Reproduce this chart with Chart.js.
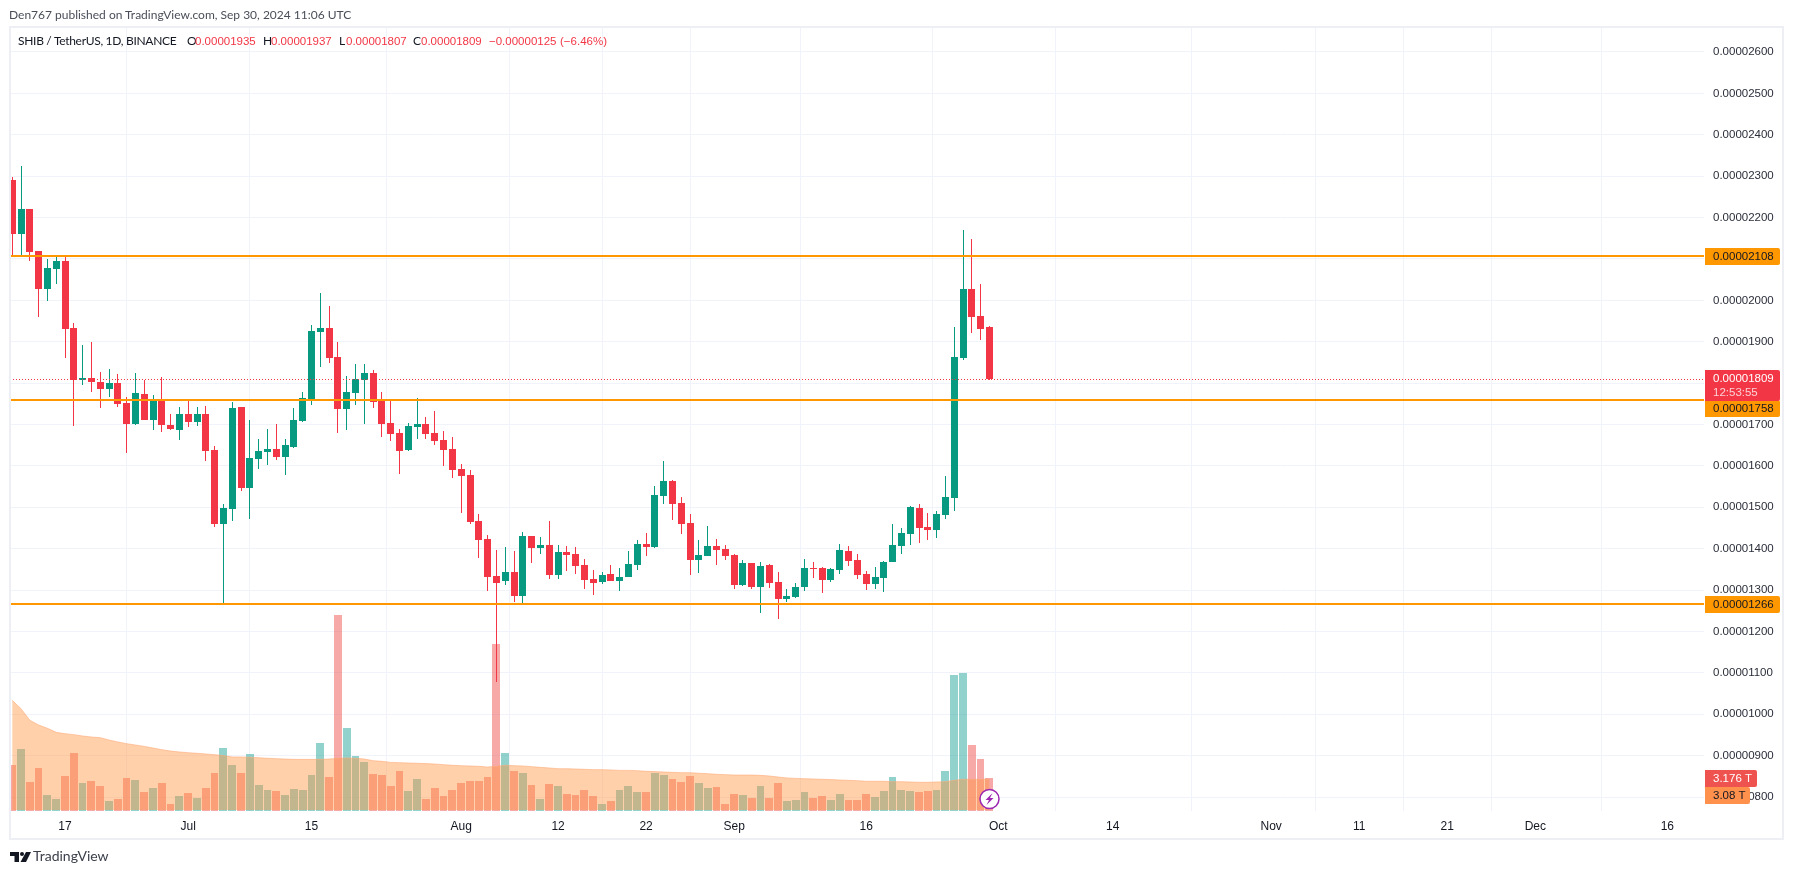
<!DOCTYPE html>
<html>
<head>
<meta charset="utf-8">
<title>SHIB / TetherUS</title>
<script src="https://cdn.jsdelivr.net/npm/chart.js@4"></script>
<style>
    html, body { margin: 0; padding: 0; background: #fff; overflow: hidden; }
    body { width: 1794px; height: 874px; position: relative; font-family: Lato, sans-serif; }
    canvas { position: absolute; left: 0; top: 0; }
    .frame { position: absolute; left: 9px; top: 26px; width: 1771px; height: 810px; border: 2px solid #eeeff4; pointer-events: none; }
    .txt { position: absolute; white-space: nowrap; font-size: 12px; line-height: 14px; color: #131722; }
    .up { color: #f23645; font-family: 'Liberation Sans', sans-serif; font-size: 11.5px; }
</style>
</head>
<body>
<canvas id="candle-chart" width="1794" height="874"></canvas>
<div class="frame"></div>
<div class="txt" style="left:9px;top:8px;color:#4a4e59">Den767 published on TradingView.com, Sep 30, 2024 11:06 UTC</div>
<div class="txt" style="left:18px;top:34px;letter-spacing:-.3px">SHIB / TetherUS, 1D, BINANCE</div>
<div class="txt" style="left:187px;top:34px">O</div><div class="txt up" style="left:195px;top:34px">0.00001935</div>
<div class="txt" style="left:263px;top:34px">H</div><div class="txt up" style="left:271px;top:34px">0.00001937</div>
<div class="txt" style="left:339px;top:34px">L</div><div class="txt up" style="left:346px;top:34px">0.00001807</div>
<div class="txt" style="left:413px;top:34px">C</div><div class="txt up" style="left:421px;top:34px">0.00001809</div>
<div class="txt up" style="left:489px;top:34px">−0.00000125</div>
<div class="txt up" style="left:560px;top:34px">(−6.46%)</div>
<svg style="position:absolute;left:10px;top:852px" width="21" height="10" viewBox="0 0 21 10">
    <path fill="#131722" d="M0 0H9V10H4.5V4H0Z"/><circle fill="#131722" cx="12" cy="2" r="2"/><path fill="#131722" d="M16 0H21L16 10H10.5Z"/>
</svg>
<div class="txt" style="left:33px;top:848px;font-size:14px;line-height:16px;color:#3c404b">TradingView</div>

<script>
// Candles, one per day from Jun 11 to Sep 30 2024, prices in units of 0.00000001
const firstDay = -20; // days relative to Jul 1
const opens = [
    2291,2161,2221,2120,2027,2076,2095,1933,1807,1812,1803,1786,1800,1752,1701,1774,1711,1759,1699,1687,
    1725,1706,1725,1638,1459,1496,1742,1546,1616,1633,1641,1621,1645,1708,1759,1923,1933,1863,1737,1776,1807,1824,1759,1703,1679,1638,1694,1701,1679,1662,1641,
    1592,1578,1467,1423,1333,1322,1343,1286,1430,1401,1409,1336,1392,1386,1360,1326,1319,1338,1322,1331,1360,1411,1404,1527,1563,1510,1462,1372,1382,1406,1399,
    1384,1312,1365,1307,1360,1319,1278,1283,1307,1353,1353,1324,1348,1394,1372,1338,1314,1329,1367,1406,1435,1498,1452,1445,1481,1522,1861,2027,1962,1935
];
const highs = [
    2298,2325,2221,2120,2100,2107,2110,1945,1892,1899,1827,1834,1822,1766,1824,1807,1771,1815,1725,1742,
    1759,1742,1745,1648,1508,1754,1742,1711,1665,1689,1701,1665,1740,1778,1940,2018,1986,1899,1817,1846,1846,1832,1778,1759,1689,1703,1764,1718,1732,1684,1670,
    1604,1590,1484,1433,1396,1404,1394,1440,1430,1428,1467,1409,1406,1403,1375,1348,1343,1360,1353,1394,1421,1438,1551,1612,1566,1525,1483,1421,1454,1423,1409,
    1387,1372,1365,1367,1363,1343,1302,1317,1375,1367,1355,1353,1411,1406,1387,1346,1355,1370,1459,1450,1503,1508,1486,1491,1575,1936,2170,2148,2039,1937
];
const lows = [
    2105,2110,2095,1960,1998,2040,1861,1696,1795,1778,1740,1766,1742,1631,1699,1711,1687,1682,1687,1662,
    1694,1696,1612,1452,1269,1467,1540,1471,1592,1602,1614,1578,1643,1706,1747,1839,1849,1679,1687,1747,1701,1740,1670,1660,1580,1636,1665,1665,1650,1600,1571,
    1486,1459,1377,1297,1078,1313,1271,1269,1365,1387,1326,1326,1347,1340,1302,1288,1314,1322,1297,1331,1348,1382,1401,1508,1469,1435,1336,1341,1382,1360,1372,
    1302,1309,1302,1244,1305,1230,1271,1280,1297,1329,1293,1319,1338,1358,1326,1300,1302,1295,1367,1387,1409,1413,1421,1425,1471,1491,1856,1921,1904,1807
];
const closes = [
    2161,2221,2117,2027,2078,2095,1931,1807,1812,1803,1786,1800,1749,1701,1776,1711,1757,1699,1689,1725,
    1706,1725,1636,1459,1498,1740,1546,1619,1636,1641,1621,1650,1711,1764,1926,1933,1861,1737,1778,1810,1824,1754,1701,1677,1636,1696,1701,1677,1660,1638,1590,
    1575,1464,1421,1331,1318,1343,1286,1430,1401,1409,1336,1392,1385,1357,1324,1317,1336,1322,1331,1363,1411,1404,1529,1563,1508,1459,1372,1384,1406,1396,1382,
    1312,1365,1307,1358,1317,1278,1285,1307,1353,1351,1324,1351,1396,1370,1336,1314,1331,1367,1409,1438,1500,1450,1445,1484,1525,1863,2027,1960,1931,1809
];

// Volume and its moving average, in trillions
const volumes = [
    4.40,5.94,2.76,4.11,1.51,1.12,3.34,5.55,2.66,2.86,2.37,0.93,1.12,3.14,2.95,1.80,2.18,2.66,0.64,1.41,
    1.70,1.22,2.18,3.63,6.03,4.40,3.63,5.45,2.47,1.99,1.89,1.51,2.09,1.99,3.43,6.51,3.24,18.83,7.96,5.26,4.68,3.53,3.43,2.37,3.82,1.89,3.05,1.12,2.18,1.41,1.99,
    2.66,2.86,2.86,3.24,16.04,5.55,3.82,3.63,2.47,1.12,2.57,2.37,1.60,1.51,1.99,1.41,0.64,0.93,1.99,2.37,1.80,1.80,3.63,3.43,3.05,2.76,3.34,2.66,2.18,2.28,0.64,
    1.60,1.51,1.22,2.37,1.22,2.66,0.93,1.03,1.80,1.22,1.41,1.03,1.60,1.03,1.03,1.60,1.32,1.89,3.24,1.99,1.89,1.80,1.89,1.99,3.82,13.06,13.25,6.32,4.97,3.18
];
const volumeAverage = [
    10.65,9.85,8.73,8.28,7.96,7.57,7.44,7.35,7.22,7.12,7.06,6.83,6.64,6.48,6.35,6.22,6.06,5.90,5.77,5.68,
    5.61,5.55,5.49,5.42,5.33,5.20,5.20,5.17,5.13,5.07,5.04,5.00,4.97,4.97,4.97,4.97,5.00,5.07,5.10,5.07,5.00,4.84,4.78,4.68,4.65,4.62,4.59,4.56,4.52,4.46,4.40,
    4.36,4.33,4.30,4.23,4.30,4.40,4.36,4.33,4.27,4.20,4.14,4.07,4.07,4.04,4.01,3.98,3.98,3.95,3.91,3.91,3.88,3.82,3.79,3.75,3.72,3.69,3.69,3.63,3.59,3.53,3.50,
    3.46,3.46,3.46,3.43,3.37,3.27,3.18,3.14,3.11,3.08,3.05,3.02,2.98,2.95,2.92,2.86,2.86,2.86,2.82,2.82,2.79,2.76,2.76,2.79,2.82,2.95,3.05,3.05,3.05,3.08
];

// Axis ticks
const priceTicks = [800,900,1000,1100,1200,1300,1400,1500,1600,1700,1800,1900,2000,2100,2200,2300,2400,2500,2600];
const timeTickDays = [-14,0,14,31,42,52,62,77,92,105,123,133,143,153,168];
const timeTickNames = ['17','Jul','15','Aug','12','22','Sep','16','Oct','14','Nov','11','21','Dec','16'];

// Horizontal levels drawn on the chart
const levels = [2108, 1758, 1266];
const lastPrice = 1809;
const lastVolume = 3.176;
const lastAverage = 3.08;
const countdown = '12:53:55';

const GREEN = '#089981';
const RED = '#f23645';
const ORANGE = '#ff9800';
const FONT = "'Liberation Sans', sans-serif";

// Visible ranges of the three axes
const dayMin = -20.25, dayMax = 172.16;
const priceMin = 766.2, priceMax = 2660.4;
const volumeMax = 75.46;

const dayOf = i => firstDay + i;
const isUp = i => closes[i] >= opens[i];
const candleColors = opens.map((_, i) => isUp(i) ? GREEN : RED);
const volumeColors = opens.map((_, i) => isUp(i) ? 'rgba(38, 166, 154, 0.5)' : 'rgba(239, 83, 80, 0.5)');
const priceText = p => (p / 1e8).toFixed(8);

// Snap the bars and level lines to whole pixels so they stay crisp like the original
const snapPlugin = {
    id: 'snap',
    afterDatasetsUpdate(chart) {
        chart.data.datasets.forEach((ds, d) => {
            const els = chart.getDatasetMeta(d).data;
            els.forEach(el => {
                if (ds.snap === 'candle') {
                    el.x = Math.floor(el.x) + 0.5;
                    el.y = Math.round(el.y);
                    el.base = Math.round(el.base);
                    if (el.y === el.base) el.base = el.y + 1;
                } else if (ds.snap === 'volume') {
                    const left = Math.round(el.x - 4);
                    const right = Math.round(el.x + 4.8) - 1;
                    el.x = (left + right) / 2;
                    el.width = right - left;
                    el.y = Math.round(el.y);
                } else if (ds.snap === 'level') {
                    el.y = Math.round(el.y) + ds.snapOffset;
                }
            });
        });
    }
};

function drawTag(ctx, x, top, w, h, color) {
    ctx.fillStyle = color;
    ctx.beginPath();
    ctx.roundRect(x, top, w, h, [0, 2, 2, 0]);
    ctx.fill();
}

// Price tags on the right axis and the small bolt marker
const tagsPlugin = {
    id: 'tags',
    afterDraw(chart) {
        const ctx = chart.ctx;
        const y = chart.scales.y;
        const v = chart.scales.yVolume;
        const tagX = chart.chartArea.right + 1;
        const textX = tagX + 8;
        ctx.save();
        ctx.textBaseline = 'middle';
        ctx.font = '11.5px ' + FONT;

        levels.forEach(level => {
            const cy = Math.round(y.getPixelForValue(level));
            let top = cy - 8;
            if (level === 1758) top = Math.max(top, Math.round(y.getPixelForValue(lastPrice)) + 21);
            drawTag(ctx, tagX, top, 75, 17, ORANGE);
            ctx.fillStyle = '#131722';
            ctx.fillText(priceText(level), textX, top + 9);
        });

        const lastY = Math.round(y.getPixelForValue(lastPrice));
        drawTag(ctx, tagX, lastY - 9, 75, 31, RED);
        ctx.fillStyle = '#fff';
        ctx.fillText(priceText(lastPrice), textX, lastY);
        ctx.fillStyle = '#fcd0d4';
        ctx.fillText(countdown, textX, lastY + 14);

        const volTop = Math.round(v.getPixelForValue(lastVolume)) - 8;
        drawTag(ctx, tagX, volTop, 52, 17, '#ef5350');
        ctx.fillStyle = '#fff';
        ctx.fillText(lastVolume + ' T', textX, volTop + 9);

        const avgTop = Math.max(Math.round(v.getPixelForValue(lastAverage)) - 8, volTop + 17);
        drawTag(ctx, tagX, avgTop, 45, 17, '#ff914d');
        ctx.fillStyle = '#131722';
        ctx.fillText(lastAverage + ' T', textX, avgTop + 9);

        // Bolt marker sits on the last volume bar
        const bx = Math.round(chart.scales.x.getPixelForValue(dayOf(opens.length - 1))) + 0.5;
        const by = chart.chartArea.bottom - 12;
        ctx.beginPath();
        ctx.arc(bx, by, 9.5, 0, Math.PI * 2);
        ctx.fillStyle = '#fff';
        ctx.fill();
        ctx.lineWidth = 1.5;
        ctx.strokeStyle = '#9c27b0';
        ctx.stroke();
        ctx.beginPath();
        ctx.moveTo(bx + 3, by - 6);
        ctx.lineTo(bx - 4, by + 1);
        ctx.lineTo(bx - 0.5, by + 1);
        ctx.lineTo(bx - 3, by + 6);
        ctx.lineTo(bx + 4, by - 1);
        ctx.lineTo(bx + 0.5, by - 1);
        ctx.closePath();
        ctx.fillStyle = '#9c27b0';
        ctx.fill();
        ctx.restore();
    }
};

function initCandleChart() {
    const ctx = document.getElementById('candle-chart');

    const barCommon = { type: 'bar', grouped: false, borderWidth: 0, inflateAmount: 0, borderSkipped: false };

    const levelSets = levels.map(level => ({
        type: 'line',
        data: [{ x: dayMin, y: level }, { x: dayMax, y: level }],
        borderColor: ORANGE,
        borderWidth: 2,
        pointRadius: 0,
        yAxisID: 'y',
        order: 1,
        snap: 'level',
        snapOffset: 0
    }));

    new Chart(ctx, {
        type: 'bar',
        data: {
            datasets: [
                {
                    ...barCommon,
                    data: volumes.map((v, i) => ({ x: dayOf(i), y: v })),
                    backgroundColor: volumeColors,
                    barThickness: 8,
                    yAxisID: 'yVolume',
                    order: 10,
                    snap: 'volume'
                },
                {
                    type: 'line',
                    data: volumeAverage.map((v, i) => ({ x: dayOf(i), y: v })),
                    borderColor: 'rgba(255, 170, 120, 0.6)',
                    borderWidth: 1,
                    backgroundColor: 'rgba(255, 148, 62, 0.44)',
                    fill: { value: 0.1 },
                    pointRadius: 0,
                    tension: 0,
                    yAxisID: 'yVolume',
                    order: 9
                },
                {
                    ...barCommon,
                    data: opens.map((_, i) => ({ x: dayOf(i), y: [lows[i], highs[i]] })),
                    backgroundColor: candleColors,
                    barThickness: 1,
                    yAxisID: 'y',
                    order: 8,
                    snap: 'candle'
                },
                {
                    ...barCommon,
                    data: opens.map((o, i) => ({ x: dayOf(i), y: [o, closes[i]] })),
                    backgroundColor: candleColors,
                    barThickness: 7,
                    yAxisID: 'y',
                    order: 7,
                    snap: 'candle'
                },
                {
                    type: 'line',
                    data: [{ x: dayMin, y: lastPrice }, { x: dayMax, y: lastPrice }],
                    borderColor: RED,
                    borderWidth: 1,
                    borderDash: [1, 2],
                    pointRadius: 0,
                    yAxisID: 'y',
                    order: 6,
                    snap: 'level',
                    snapOffset: 0.5
                },
                ...levelSets
            ]
        },
        options: {
            responsive: false,
            animation: false,
            events: [],
            layout: { padding: { left: 10, top: 27, right: 0, bottom: 0 } },
            plugins: {
                legend: { display: false },
                tooltip: { enabled: false }
            },
            scales: {
                x: {
                    type: 'linear',
                    min: dayMin,
                    max: dayMax,
                    offset: false,
                    afterBuildTicks: axis => { axis.ticks = timeTickDays.map(value => ({ value })); },
                    afterFit: axis => { axis.height = 63; },
                    grid: { color: '#f0f3fa', drawTicks: false },
                    border: { display: false },
                    ticks: {
                        color: '#131722',
                        padding: 8,
                        autoSkip: false,
                        maxRotation: 0,
                        font: { size: 12, family: FONT },
                        callback: value => timeTickNames[timeTickDays.indexOf(value)]
                    }
                },
                y: {
                    type: 'linear',
                    position: 'right',
                    min: priceMin,
                    max: priceMax,
                    afterBuildTicks: axis => { axis.ticks = priceTicks.map(value => ({ value })); },
                    afterFit: axis => { axis.width = 90; },
                    grid: { color: '#f0f3fa', drawTicks: false },
                    border: { display: false },
                    ticks: {
                        color: '#2a2e39',
                        padding: 9,
                        autoSkip: false,
                        font: { size: 11.5, family: FONT },
                        callback: value => priceText(value)
                    }
                },
                yVolume: {
                    type: 'linear',
                    display: false,
                    min: 0,
                    max: volumeMax
                }
            }
        },
        plugins: [snapPlugin, tagsPlugin]
    });
}

initCandleChart();
</script>
</body>
</html>
